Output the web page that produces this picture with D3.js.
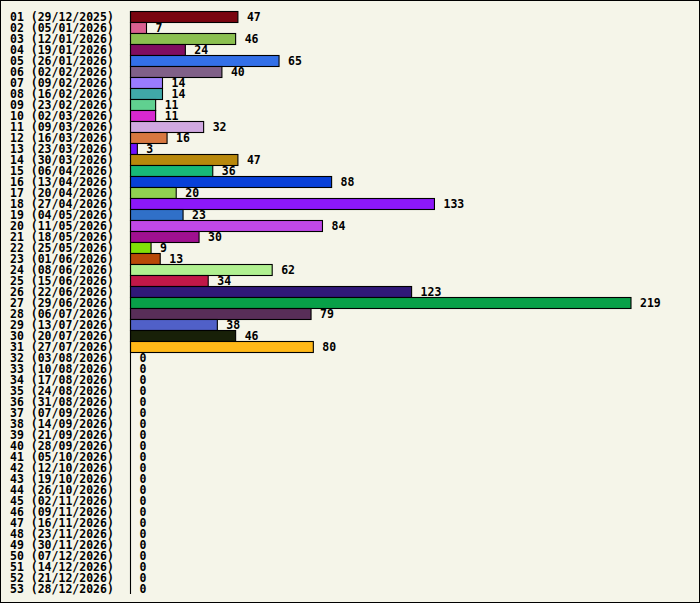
<!DOCTYPE html>
<html><head><meta charset="utf-8">
<script src="https://cdn.jsdelivr.net/npm/d3@7/dist/d3.min.js"></script>
<style>
html,body{margin:0;padding:0;background:#f5f5e9;}
svg{display:block;}
text{font-family:"DejaVu Sans Mono",monospace;font-weight:bold;font-size:11.5px;fill:#000;}
</style></head>
<body><svg id="c" width="700" height="603"></svg>
<script>
const weeks = ["01","02","03","04","05","06","07","08","09","10","11","12","13","14","15","16","17","18","19","20","21","22","23","24","25","26","27","28","29","30","31","32","33","34","35","36","37","38","39","40","41","42","43","44","45","46","47","48","49","50","51","52","53"];
const dates = ["29/12/2025","05/01/2026","12/01/2026","19/01/2026","26/01/2026","02/02/2026","09/02/2026","16/02/2026","23/02/2026","02/03/2026","09/03/2026","16/03/2026","23/03/2026","30/03/2026","06/04/2026","13/04/2026","20/04/2026","27/04/2026","04/05/2026","11/05/2026","18/05/2026","25/05/2026","01/06/2026","08/06/2026","15/06/2026","22/06/2026","29/06/2026","06/07/2026","13/07/2026","20/07/2026","27/07/2026","03/08/2026","10/08/2026","17/08/2026","24/08/2026","31/08/2026","07/09/2026","14/09/2026","21/09/2026","28/09/2026","05/10/2026","12/10/2026","19/10/2026","26/10/2026","02/11/2026","09/11/2026","16/11/2026","23/11/2026","30/11/2026","07/12/2026","14/12/2026","21/12/2026","28/12/2026"];
const values = [47,7,46,24,65,40,14,14,11,11,32,16,3,47,36,88,20,133,23,84,30,9,13,62,34,123,219,79,38,46,80,0,0,0,0,0,0,0,0,0,0,0,0,0,0,0,0,0,0,0,0,0,0];
const colors = ["#7a0510","#d96090","#8bc050","#800e60","#3370e8","#806088","#9a7cff","#40a8a8","#60d090","#d828d0","#d0a8e0","#d87840","#7010ff","#b8880c","#18b878","#0840d8","#90d050","#8c18f8","#3070c8","#c048e8","#a01090","#80e008","#b84808","#b0f090","#c01848","#301878","#08a048","#582e58","#5060c8","#182008","#ffb818"];

const labels = weeks.map((w,i)=>`${w} (${dates[i]})`);
const svg = d3.select("#c");
svg.append("rect").attr("x",0).attr("y",0).attr("width",700).attr("height",603)
  .attr("fill","#f5f5e9").attr("stroke","#000").attr("stroke-width",2).attr("shape-rendering","crispEdges");

const y = d3.scaleBand().domain(labels).range([11,594]).padding(0);
const x = d3.scaleLinear().domain([0,219]).range([130.5,631]);

const g = svg.append("g");
g.selectAll("text.lab").data(labels).join("text").attr("class","lab")
  .attr("x",10).attr("y",d=>y(d)+y.bandwidth()/2+4).text(d=>d);

g.selectAll("rect.bar").data(values.map((v,i)=>({v,l:labels[i],c:colors[i]})).filter(d=>d.v>0)).join("rect")
  .attr("class","bar").attr("x",x(0)).attr("y",d=>y(d.l)+0.5)
  .attr("width",d=>x(d.v)-x(0)).attr("height",y.bandwidth())
  .attr("fill",d=>d.c).attr("stroke","#000").attr("stroke-width",1.1);

svg.append("line").attr("x1",x(0)).attr("x2",x(0)).attr("y1",11).attr("y2",594)
  .attr("stroke","#000").attr("stroke-width",1.1);

g.selectAll("text.val").data(values.map((v,i)=>({v,l:labels[i]}))).join("text").attr("class","val")
  .attr("x",d=>x(d.v)+9).attr("y",d=>y(d.l)+y.bandwidth()/2+4).text(d=>d.v);
</script></body></html>
